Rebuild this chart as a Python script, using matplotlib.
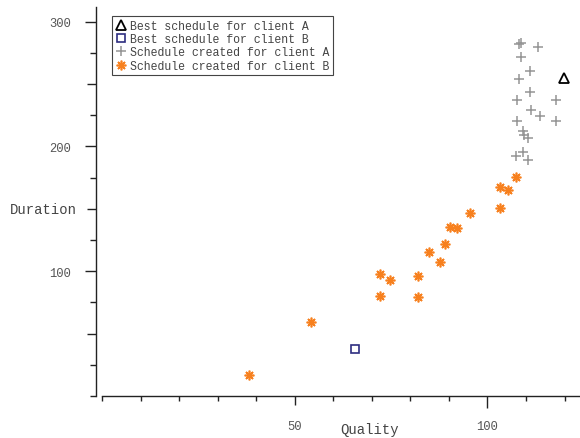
import matplotlib
matplotlib.use("Agg")
import matplotlib.pyplot as plt

# donnees
best_a_q = [119.9]
best_a_d = [254.8]
best_b_q = [65.7]
best_b_d = [37.4]

sched_a_q = [108.1, 108.8, 113.2, 108.8, 111.0, 108.2, 111.0, 107.7, 117.7, 111.3,
             113.6, 107.7, 117.7, 109.1, 109.5, 110.6, 107.3, 109.1, 110.6]
sched_a_d = [282.0, 282.8, 279.4, 271.4, 260.1, 254.0, 243.3, 237.1, 237.1, 229.4,
             224.5, 220.3, 220.3, 212.5, 209.1, 206.4, 192.5, 195.2, 189.3]

sched_b_q = [38.2, 54.1, 72.2, 74.8, 72.2, 82.1, 82.1, 84.8, 87.7, 88.9,
             90.3, 92.2, 95.5, 103.3, 107.3, 103.3, 105.2]
sched_b_d = [16.6, 58.9, 97.6, 93.0, 80.2, 96.2, 79.4, 115.0, 107.0, 121.7,
             135.5, 134.2, 146.8, 150.3, 175.4, 167.4, 165.0]

labels = ["Best schedule for client A", "Best schedule for client B",
          "Schedule created for client A", "Schedule created for client B"]

x_major = [50, 100]
x_minor = list(range(0, 121, 10))
y_major = [100, 200, 300]
y_minor = list(range(0, 301, 25))

mono = "Liberation Mono"
px = 0.72  # 1 pixel en points a 100 dpi

fig = plt.figure(figsize=(5.8, 4.39), dpi=100)
ax = fig.add_axes([0.1659, 0.0957, 0.8341, 0.887])

ax.plot(best_a_q, best_a_d, ls="none", marker="^", ms=6.5, mfc="none",
        mec="black", mew=1.3, label=labels[0])
ax.plot(best_b_q, best_b_d, ls="none", marker="s", ms=5.5, mfc="none",
        mec="#2e2e80", mew=1.2, label=labels[1])
ax.plot(sched_a_q, sched_a_d, ls="none", marker="+", ms=7.5, mec="#959595",
        mew=1.1, label=labels[2])
ax.plot(sched_b_q, sched_b_d, ls="none", marker=(8, 2, 0), ms=7,
        mec="#f7801e", mew=1.2, label=labels[3])

ax.set_xlim(-1.5, 124)
ax.set_ylim(0, 312)

for s in ["top", "right"]:
    ax.spines[s].set_visible(False)
ax.spines["bottom"].set_bounds(0, 124)
ax.spines["left"].set_bounds(0, 312)
for s in ["bottom", "left"]:
    ax.spines[s].set_color("#222222")
    ax.spines[s].set_linewidth(1.0)

ax.set_xticks(x_major)
ax.set_xticks([v for v in x_minor if v not in x_major], minor=True)
ax.set_yticks(y_major)
ax.set_yticks([v for v in y_minor if v not in y_major], minor=True)

ax.tick_params(axis="x", which="major", length=12 * px, width=1, color="#222222",
               pad=9, labelsize=8.7, labelcolor="#555555")
ax.tick_params(axis="x", which="minor", length=4.5 * px, width=1, color="#222222")
ax.tick_params(axis="y", which="major", length=11 * px, width=1, color="#222222",
               pad=10, labelsize=8.7, labelcolor="#555555")
ax.tick_params(axis="y", which="minor", length=6 * px, width=1, color="#222222")
for lab in ax.get_xticklabels() + ax.get_yticklabels():
    lab.set_family(mono)

# graduations moyennes
fig.canvas.draw()
for t in ax.xaxis.get_major_ticks():
    if t.get_loc() == 50:
        t.tick1line.set_markersize(8.5 * px)
for t in ax.yaxis.get_minor_ticks():
    if t.get_loc() % 50 == 0 and t.get_loc() > 0:
        t.tick1line.set_markersize(8.7 * px)

ax.set_xlabel("Quality", family=mono, fontsize=10, color="#444444", va="center")
ax.xaxis.set_label_coords(0.566, -0.085)
ax.set_ylabel("Duration", family=mono, fontsize=10, color="#444444",
              rotation=0, ha="right", va="center")
ax.yaxis.set_label_coords(-0.040, 0.481)

leg = ax.legend(loc="upper left", bbox_to_anchor=(0.193, 0.961),
                bbox_transform=fig.transFigure, prop={"family": mono, "size": 8.3},
                fancybox=False, edgecolor="#444444", framealpha=1,
                handlelength=0.9, handletextpad=0.4, labelspacing=0.12,
                borderpad=0.3, borderaxespad=0, numpoints=1)
leg.get_frame().set_linewidth(0.8)
for txt in leg.get_texts():
    txt.set_color("#444444")

fig.savefig("out.png", dpi=100)
